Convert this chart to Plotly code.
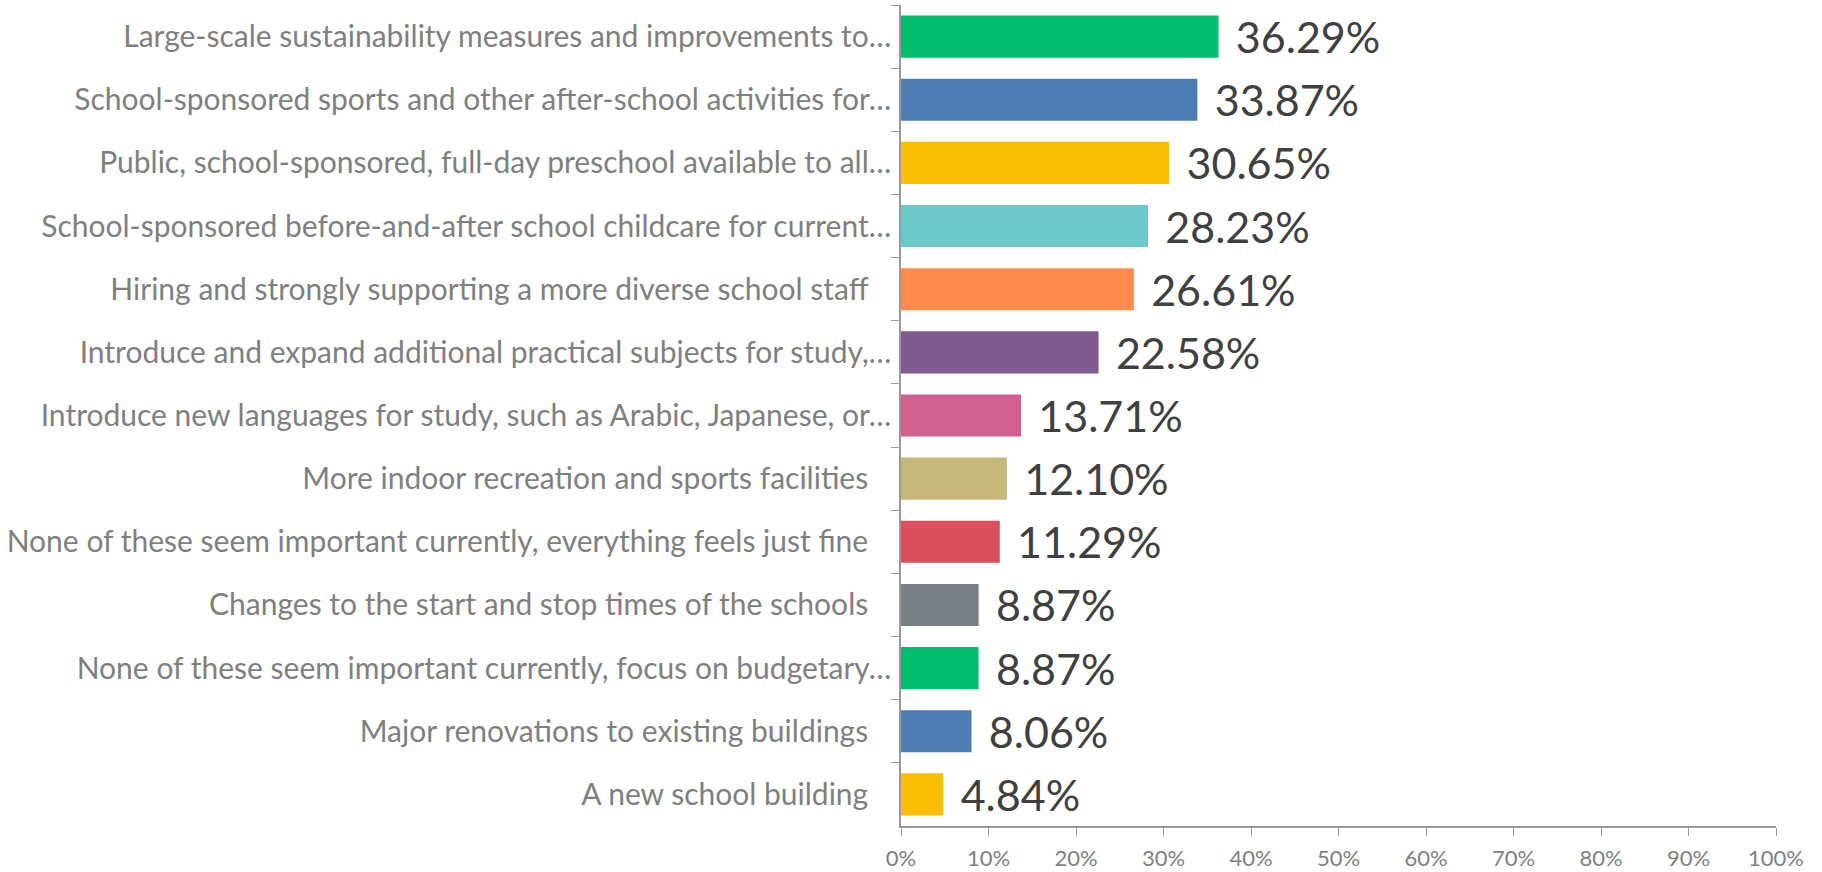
import plotly.graph_objects as go

PAD = "\u00a0\u00a0\u00a0"
categories = [
    "Large-scale sustainability measures and improvements to…",
    "School-sponsored sports and other after-school activities for…",
    "Public, school-sponsored, full-day preschool available to all…",
    "School-sponsored before-and-after school childcare for current…",
    "Hiring and strongly supporting a more diverse school staff" + PAD,
    "Introduce and expand additional practical subjects for study,…",
    "Introduce new languages for study, such as Arabic, Japanese, or…",
    "More indoor recreation and sports facilities" + PAD,
    "None of these seem important currently, everything feels just fine" + PAD,
    "Changes to the start and stop times of the schools" + PAD,
    "None of these seem important currently, focus on budgetary…",
    "Major renovations to existing buildings" + PAD,
    "A new school building" + PAD,
]
values = [0.3629, 0.3387, 0.3065, 0.2823, 0.2661, 0.2258, 0.1371,
          0.1210, 0.1129, 0.0887, 0.0887, 0.0806, 0.0484]
colors = ["#00BF6F", "#507CB6", "#F9BE00", "#6BC8CD", "#FF8B4F", "#7F5A91",
          "#D25F90", "#C7B879", "#D9505F", "#768086", "#00BF6F", "#507CB6", "#F9BE00"]
x_ticks = [0, 0.1, 0.2, 0.3, 0.4, 0.5, 0.6, 0.7, 0.8, 0.9, 1.0]

FONT = "Lato"

fig = go.Figure(go.Bar(
    y=categories,
    x=values,
    orientation="h",
    marker=dict(color=colors, line=dict(width=0)),
    texttemplate="\u2004%{x:.2%}",
    textposition="outside",
    constraintext="none",
    cliponaxis=False,
    textfont=dict(family=FONT, size=43, color="#404040"),
    width=0.667,
    hoverinfo="skip",
))

fig.update_layout(
    width=1822, height=872,
    margin=dict(l=901, r=46, t=5, b=46, autoexpand=False),
    paper_bgcolor="white", plot_bgcolor="white",
    showlegend=False,
    font=dict(family=FONT),
)
fig.update_yaxes(
    autorange="reversed",
    type="category",
    tickson="boundaries",
    ticks="outside", ticklen=8, tickcolor="#999999",
    showline=True, linecolor="#999999", linewidth=1.5,
    showgrid=False,
    automargin=False,
    tickfont=dict(family=FONT, size=30, color="#7F7F7F"),
    ticklabelstandoff=2,
)
fig.update_xaxes(
    range=[0, 1],
    tickvals=x_ticks,
    tickformat=".0%",
    ticks="outside", ticklen=8, tickcolor="#999999",
    showline=True, linecolor="#999999", linewidth=1.5,
    showgrid=False, zeroline=False,
    automargin=False,
    tickfont=dict(family=FONT, size=22, color="#7F7F7F"),
    ticklabelstandoff=4,
)

fig.write_html("out.html", config={"displayModeBar": False},
               post_script="document.body.style.margin='0';")
